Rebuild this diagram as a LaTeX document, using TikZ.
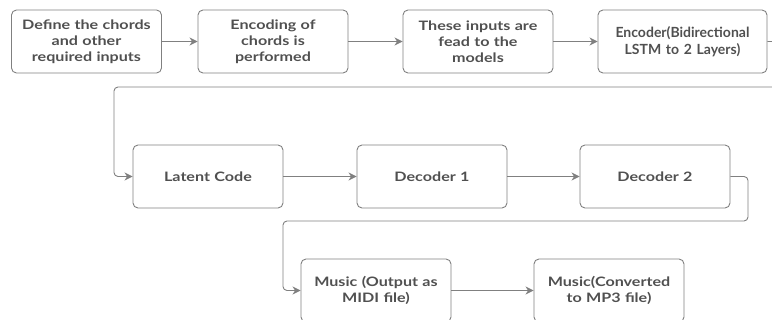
\documentclass[tikz,border=0pt]{standalone}
\usepackage{fontspec}
\setmainfont{Lato}
\newfontfamily\widelato{Lato}[FakeStretch=1.24]
\usetikzlibrary{arrows.meta}
\definecolor{linegray}{HTML}{808080}
\definecolor{textgray}{HTML}{505050}
\begin{document}
\begin{tikzpicture}[x=1pt,y=-1pt,
  box/.style={draw=linegray, line width=0.9pt, rounded corners=5pt, minimum width=150pt, minimum height=63pt,
    text width=146pt, align=center, font=\widelato\bfseries\fontsize{13}{16}\selectfont, text=textgray, inner sep=0pt},
  conn/.style={draw=linegray, line width=0.9pt, -{Stealth[length=8pt,width=8pt,inset=2.5pt]}},
  elbow/.style={conn, rounded corners=4pt}]
\useasboundingbox (0,0) rectangle (772,320);
\clip (0,0) rectangle (772,320);
\node[box] (a) at (86.5,41.5) {Define the chords\\and other\\required inputs};
\node[box] (b) at (273,41.5) {Encoding of\\chords is\\performed};
\node[box] (c) at (478,41.5) {These inputs are\\fead to the\\models};
\node[box, minimum width=169pt, text width=167pt, font=\bfseries\fontsize{14}{17}\selectfont] (d) at (682.5,41.5) {Encoder(Bidirectional\\LSTM to 2 Layers)};
\node[box] (e) at (208,176.5) {Latent Code};
\node[box] (f) at (432,176.5) {Decoder 1};
\node[box] (g) at (655,176.5) {Decoder 2};
\node[box] (h) at (376,290.5) {Music (Output as\\MIDI file)};
\node[box] (i) at (609,290.5) {Music(Converted\\to MP3 file)};
\coordinate (dr) at (785,41.5);
\draw[conn] (a) -- (b);
\draw[conn] (b) -- (c);
\draw[conn] (c) -- (d);
\draw[elbow] (d.east) -- (dr) |- (114,87) |- (e.west);
\draw[conn] (e) -- (f);
\draw[conn] (f) -- (g);
\draw[elbow] (g.east) -| (748,221) -| (283,290.5) -- (h.west);
\draw[conn] (h) -- (i);
\end{tikzpicture}
\end{document}
